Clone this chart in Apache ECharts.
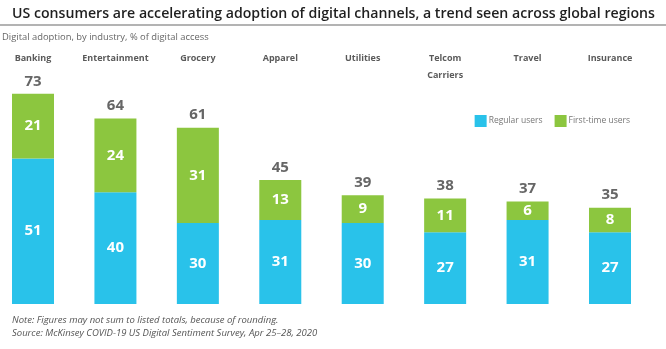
<!DOCTYPE html>
<html>
<head>
<meta charset="utf-8">
<script src="https://cdn.jsdelivr.net/npm/echarts@6/dist/echarts.min.js"></script>
<style>
  html, body { margin: 0; padding: 0; background: #fff; }
  #chart { width: 666px; height: 349px; }
</style>
</head>
<body>
<div id="chart"></div>
<script>
// Digital adoption by industry, % of digital access
const industries = ['Banking', 'Entertainment', 'Grocery', 'Apparel', 'Utilities', 'Telcom\nCarriers', 'Travel', 'Insurance'];
const regularUsers = [51, 40, 30, 31, 30, 27, 31, 27];
const firstTimeUsers = [21, 24, 31, 13, 9, 11, 6, 8];
const listedTotals = [73, 64, 61, 45, 39, 38, 37, 35];

const BLUE = '#29c2ea';
const GREEN = '#8cc63f';
const FONT = '"Open Sans", "Noto Sans", sans-serif';

const chart = echarts.init(document.getElementById('chart'), null, { renderer: 'canvas' });

chart.setOption({
  backgroundColor: '#ffffff',
  animation: false,
  textStyle: { fontFamily: FONT },
  title: [
    {
      text: 'US consumers are accelerating adoption of digital channels, a trend seen across global regions',
      left: 12, top: 7, padding: 0,
      textStyle: { fontFamily: FONT, fontSize: 14.15, fontWeight: 600, color: '#1f1f1f' }
    },
    {
      text: 'Digital adoption, by industry, % of digital access',
      left: 2, top: 33, padding: 0,
      textStyle: { fontFamily: FONT, fontSize: 9.4, fontWeight: 'normal', color: '#666' }
    },
    {
      text: 'Note: Figures may not sum to listed totals, because of rounding.\nSource: McKinsey COVID-19 US Digital Sentiment Survey, Apr 25\u201328, 2020',
      left: 12, top: 313.5, padding: 0,
      textStyle: { fontFamily: FONT, fontSize: 9.5, fontStyle: 'italic', fontWeight: 'normal', color: '#555', lineHeight: 13 }
    }
  ],
  graphic: [
    {
      type: 'line',
      shape: { x1: 0, y1: 25, x2: 666, y2: 25 },
      style: { stroke: '#9a9a9a', lineWidth: 1.5 }
    }
  ],
  legend: {
    data: ['Regular users', 'First-time users'],
    right: 36, top: 115, padding: 0,
    itemWidth: 12, itemHeight: 12, itemGap: 12,
    icon: 'rect',
    textStyle: { fontFamily: FONT, fontSize: 8.5, color: '#777', padding: [0, 0, 0, -3] }
  },
  // Category slots sit on ticks (boundaryGap off) so the first and last bars center on the grid edges
  grid: { left: 33, right: 56, top: 51, bottom: 45, containLabel: false },
  xAxis: {
    type: 'category',
    position: 'top',
    boundaryGap: false,
    data: industries,
    axisLine: { show: false },
    axisTick: { show: false },
    axisLabel: {
      interval: 0,
      margin: 1,
      verticalAlign: 'top',
      fontFamily: FONT,
      fontSize: 9,
      fontWeight: 'bold',
      color: '#5a5a5a',
      lineHeight: 17
    }
  },
  // The value scale starts slightly above zero, so the bar bases are cut off at the grid floor
  yAxis: {
    type: 'value',
    min: 3.7,
    max: 85.9,
    show: false,
    splitLine: { show: false }
  },
  series: [
    {
      name: 'Regular users',
      type: 'bar',
      stack: 'adoption',
      barWidth: 42,
      clip: true,
      data: regularUsers,
      itemStyle: { color: BLUE },
      label: {
        show: true, position: 'inside',
        color: '#fff', fontFamily: FONT, fontSize: 15, fontWeight: 'bold'
      }
    },
    {
      name: 'First-time users',
      type: 'bar',
      stack: 'adoption',
      barWidth: 42,
      clip: true,
      data: firstTimeUsers,
      itemStyle: { color: GREEN },
      label: {
        show: true, position: 'inside',
        color: '#fff', fontFamily: FONT, fontSize: 15, fontWeight: 'bold'
      }
    },
    {
      name: 'Total',
      type: 'bar',
      stack: 'adoption',
      barWidth: 42,
      data: listedTotals.map(() => 0),
      itemStyle: { color: 'rgba(0,0,0,0)' },
      label: {
        show: true, position: 'top', distance: 5,
        formatter: (p) => String(listedTotals[p.dataIndex]),
        color: '#666', fontFamily: FONT, fontSize: 15, fontWeight: 'bold'
      },
      silent: true
    }
  ]
});
</script>
</body>
</html>
